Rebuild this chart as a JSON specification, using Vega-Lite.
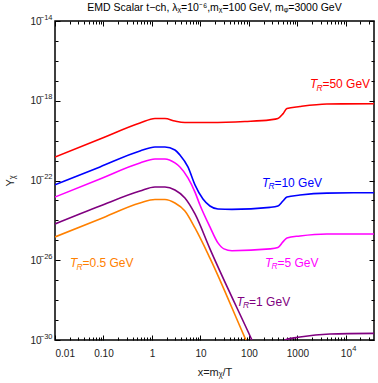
{
  "$schema": "https://vega.github.io/schema/vega-lite/v6.json",
  "width": 319,
  "height": 319,
  "autosize": "none",
  "padding": {"left": 55, "top": 21, "right": 4, "bottom": 43},
  "background": "white",
  "title": {"text": "EMD Scalar t−ch, λᵪ=10⁻⁶,mᵪ=100 GeV, mᵩ=3000 GeV", "font": "Liberation Sans", "fontSize": 10.5, "fontWeight": "normal", "color": "black", "offset": 0},
  "config": {
    "view": {"stroke": "black", "strokeWidth": 1.5},
    "axis": {"domain": false, "grid": false, "tickColor": "black", "labelColor": "#222", "labelFont": "Liberation Sans", "labelFontSize": 10, "titleFont": "Liberation Sans", "titleFontSize": 11, "titleFontWeight": "normal", "titleColor": "#222"}
  },
  "datasets": {
    "lines": [
      {"s": "50", "x": 0.01, "y": 1.51e-21}, {"s": "50", "x": 0.0847, "y": 1.20e-20}, {"s": "50", "x": 0.566, "y": 7.59e-20}, {"s": "50", "x": 1.153, "y": 1.29e-19}, {"s": "50", "x": 1.854, "y": 1.29e-19}, {"s": "50", "x": 2.979, "y": 9.55e-20}, {"s": "50", "x": 4.786, "y": 8.13e-20}, {"s": "50", "x": 15.70, "y": 8.13e-20}, {"s": "50", "x": 82.8, "y": 9.12e-20}, {"s": "50", "x": 271, "y": 1.10e-19}, {"s": "50", "x": 396, "y": 1.29e-19}, {"s": "50", "x": 502, "y": 2.19e-19}, {"s": "50", "x": 608, "y": 4.07e-19}, {"s": "50", "x": 1127, "y": 5.13e-19}, {"s": "50", "x": 4055, "y": 6.92e-19}, {"s": "50", "x": 37760, "y": 7.08e-19},
      {"s": "10", "x": 0.01, "y": 6.03e-23}, {"s": "10", "x": 0.0847, "y": 4.79e-22}, {"s": "10", "x": 0.566, "y": 3.02e-21}, {"s": "10", "x": 1.153, "y": 4.79e-21}, {"s": "10", "x": 1.854, "y": 4.79e-21}, {"s": "10", "x": 2.979, "y": 3.39e-21}, {"s": "10", "x": 3.776, "y": 1.91e-21}, {"s": "10", "x": 5.521, "y": 4.79e-22}, {"s": "10", "x": 7.71, "y": 6.03e-23}, {"s": "10", "x": 11.27, "y": 1.17e-23}, {"s": "10", "x": 15.70, "y": 5.25e-24}, {"s": "10", "x": 22.96, "y": 3.72e-24}, {"s": "10", "x": 44.57, "y": 3.55e-24}, {"s": "10", "x": 271, "y": 4.47e-24}, {"s": "10", "x": 396, "y": 5.25e-24}, {"s": "10", "x": 502, "y": 9.33e-24}, {"s": "10", "x": 608, "y": 1.48e-23}, {"s": "10", "x": 1127, "y": 1.86e-23}, {"s": "10", "x": 4055, "y": 2.34e-23}, {"s": "10", "x": 37760, "y": 2.45e-23},
      {"s": "5", "x": 0.01, "y": 1.48e-23}, {"s": "5", "x": 0.0847, "y": 1.20e-22}, {"s": "5", "x": 0.566, "y": 7.59e-22}, {"s": "5", "x": 1.153, "y": 1.20e-21}, {"s": "5", "x": 1.854, "y": 1.20e-21}, {"s": "5", "x": 2.979, "y": 7.59e-22}, {"s": "5", "x": 3.776, "y": 4.79e-22}, {"s": "5", "x": 5.521, "y": 1.35e-22}, {"s": "5", "x": 7.71, "y": 2.63e-23}, {"s": "5", "x": 9.77, "y": 5.89e-24}, {"s": "5", "x": 15.70, "y": 4.68e-25}, {"s": "5", "x": 22.96, "y": 7.41e-26}, {"s": "5", "x": 30.55, "y": 3.72e-26}, {"s": "5", "x": 44.57, "y": 3.02e-26}, {"s": "5", "x": 271, "y": 3.72e-26}, {"s": "5", "x": 396, "y": 4.37e-26}, {"s": "5", "x": 502, "y": 8.32e-26}, {"s": "5", "x": 608, "y": 1.32e-25}, {"s": "5", "x": 1127, "y": 1.66e-25}, {"s": "5", "x": 4055, "y": 2.09e-25}, {"s": "5", "x": 37760, "y": 2.09e-25},
      {"s": "1", "x": 0.01, "y": 6.61e-25}, {"s": "1", "x": 0.0847, "y": 5.25e-24}, {"s": "1", "x": 0.566, "y": 2.95e-23}, {"s": "1", "x": 1.153, "y": 4.68e-23}, {"s": "1", "x": 1.854, "y": 4.68e-23}, {"s": "1", "x": 2.979, "y": 3.31e-23}, {"s": "1", "x": 4.786, "y": 1.32e-23}, {"s": "1", "x": 7.71, "y": 2.09e-24}, {"s": "1", "x": 15.70, "y": 3.72e-26}, {"s": "1", "x": 115.3, "y": 1e-30}, {"s": "1", "x": 185.4, "y": 8.13e-32}, {"s": "1", "x": 343.6, "y": 1.78e-32}, {"s": "1", "x": 502, "y": 1e-31}, {"s": "1", "x": 552, "y": 1e-30}, {"s": "1", "x": 1127, "y": 1.41e-30}, {"s": "1", "x": 4677, "y": 2.0e-30}, {"s": "1", "x": 37760, "y": 2.14e-30},
      {"s": "0.5", "x": 0.01, "y": 1.48e-25}, {"s": "0.5", "x": 0.0847, "y": 1.17e-24}, {"s": "0.5", "x": 0.566, "y": 7.41e-24}, {"s": "0.5", "x": 1.153, "y": 1.12e-23}, {"s": "0.5", "x": 1.854, "y": 1.12e-23}, {"s": "0.5", "x": 2.979, "y": 7.41e-24}, {"s": "0.5", "x": 4.786, "y": 2.95e-24}, {"s": "0.5", "x": 7.71, "y": 4.17e-25}, {"s": "0.5", "x": 15.70, "y": 1.29e-26}, {"s": "0.5", "x": 86.7, "y": 1e-30}, {"s": "0.5", "x": 153.5, "y": 4.47e-32}
    ],
    "labels": [
      {"s": "50", "x": 1811, "y": 6.92e-18, "t": "=50 GeV"},
      {"s": "10", "x": 185.4, "y": 7.76e-23, "t": "=10 GeV"},
      {"s": "5", "x": 213.8, "y": 7.59e-27, "t": "=5 GeV"},
      {"s": "1", "x": 55.7, "y": 8.32e-29, "t": "=1 GeV"},
      {"s": "0.5", "x": 0.0204, "y": 7.24e-27, "t": "=0.5 GeV"}
    ]
  },
  "layer": [
    {
      "data": {"name": "lines"},
      "mark": {"type": "line", "interpolate": "monotone", "strokeWidth": 1.6, "clip": true},
      "encoding": {
        "x": {"field": "x", "type": "quantitative", "scale": {"type": "log", "domain": [0.01, 38000]},
          "axis": {"orient": "bottom", "title": "x=mᵪ/T", "titlePadding": 8, "labelPadding": 13,
            "values": [0.01,0.02,0.03,0.04,0.05,0.06,0.07,0.08,0.09,0.1,0.2,0.3,0.4,0.5,0.6,0.7,0.8,0.9,1,2,3,4,5,6,7,8,9,10,20,30,40,50,60,70,80,90,100,200,300,400,500,600,700,800,900,1000,2000,3000,4000,5000,6000,7000,8000,9000,10000,20000,30000],
            "tickSize": {"condition": {"test": "abs(log(datum.value)/LN10 - round(log(datum.value)/LN10)) < 0.01", "value": -5}, "value": -3},
            "labelExpr": "abs(log(datum.value)/LN10 - round(log(datum.value)/LN10)) > 0.01 ? '' : round(log(datum.value)/LN10) == -2 ? '0.01' : round(log(datum.value)/LN10) == -1 ? '0.10' : round(log(datum.value)/LN10) == 0 ? '1' : round(log(datum.value)/LN10) == 1 ? '10' : round(log(datum.value)/LN10) == 2 ? '100' : round(log(datum.value)/LN10) == 3 ? '1000' : '10'"}},
        "y": {"field": "y", "type": "quantitative", "scale": {"type": "log", "domain": [1e-30, 1e-14]},
          "axis": {"orient": "left", "title": "Yᵪ", "titlePadding": 14, "labelPadding": 19,
            "values": [1e-30,1e-29,1e-28,1e-27,1e-26,1e-25,1e-24,1e-23,1e-22,1e-21,1e-20,1e-19,1e-18,1e-17,1e-16,1e-15,1e-14],
            "tickSize": {"condition": {"test": "round(log(datum.value)/LN10) % 4 == -2", "value": -5}, "value": -3},
            "labelExpr": "round(log(datum.value)/LN10) % 4 == -2 ? '10' : ''"}},
        "color": {"field": "s", "type": "nominal", "scale": {"domain": ["50","10","5","1","0.5"], "range": ["#ff0000","#0000ff","#ff00ff","#800080","#ff8000"]}, "legend": null}
      }
    },
    {
      "data": {"name": "lines"},
      "mark": {"type": "point", "opacity": 0},
      "encoding": {
        "x": {"field": "x", "type": "quantitative", "scale": {"type": "log", "domain": [0.01, 38000]},
          "axis": {"orient": "top", "title": null, "labels": false,
            "values": [0.01,0.02,0.03,0.04,0.05,0.06,0.07,0.08,0.09,0.1,0.2,0.3,0.4,0.5,0.6,0.7,0.8,0.9,1,2,3,4,5,6,7,8,9,10,20,30,40,50,60,70,80,90,100,200,300,400,500,600,700,800,900,1000,2000,3000,4000,5000,6000,7000,8000,9000,10000,20000,30000],
            "tickSize": {"condition": {"test": "abs(log(datum.value)/LN10 - round(log(datum.value)/LN10)) < 0.01", "value": -5}, "value": -3}}},
        "y": {"field": "y", "type": "quantitative", "scale": {"type": "log", "domain": [1e-30, 1e-14]},
          "axis": {"orient": "right", "title": null, "labels": false,
            "values": [1e-30,1e-29,1e-28,1e-27,1e-26,1e-25,1e-24,1e-23,1e-22,1e-21,1e-20,1e-19,1e-18,1e-17,1e-16,1e-15,1e-14],
            "tickSize": {"condition": {"test": "round(log(datum.value)/LN10) % 4 == -2", "value": -5}, "value": -3}}}
      }
    },
    {
      "data": {"name": "lines"},
      "mark": {"type": "point", "opacity": 0},
      "encoding": {
        "x": {"field": "x", "type": "quantitative", "scale": {"type": "log", "domain": [0.01, 38000]},
          "axis": {"orient": "bottom", "title": null, "ticks": false, "labelPadding": 4, "labelOffset": 8, "labelFontSize": 7.5, "values": [10000], "labelExpr": "'4'"}},
        "y": {"field": "y", "type": "quantitative", "scale": {"type": "log", "domain": [1e-30, 1e-14]},
          "axis": {"orient": "left", "title": null, "ticks": false, "labelPadding": 3, "labelOffset": -4, "labelFontSize": 7.5,
            "values": [1e-30,1e-26,1e-22,1e-18,1e-14],
            "labelExpr": "'−' + format(-round(log(datum.value)/LN10), 'd')"}}
      }
    },
    {
      "data": {"name": "labels"},
      "mark": {"type": "text", "font": "Liberation Sans", "fontSize": 12, "fontStyle": "italic", "align": "left", "baseline": "middle"},
      "encoding": {
        "x": {"field": "x", "type": "quantitative", "scale": {"type": "log", "domain": [0.01, 38000]}, "axis": null},
        "y": {"field": "y", "type": "quantitative", "scale": {"type": "log", "domain": [1e-30, 1e-14]}, "axis": null},
        "text": {"value": "T"},
        "color": {"field": "s", "type": "nominal", "legend": null}
      }
    },
    {
      "data": {"name": "labels"},
      "mark": {"type": "text", "font": "Liberation Sans", "fontSize": 8.5, "fontStyle": "italic", "align": "left", "baseline": "middle", "dx": 6.5, "dy": 3.5},
      "encoding": {
        "x": {"field": "x", "type": "quantitative", "scale": {"type": "log", "domain": [0.01, 38000]}, "axis": null},
        "y": {"field": "y", "type": "quantitative", "scale": {"type": "log", "domain": [1e-30, 1e-14]}, "axis": null},
        "text": {"value": "R"},
        "color": {"field": "s", "type": "nominal", "legend": null}
      }
    },
    {
      "data": {"name": "labels"},
      "mark": {"type": "text", "font": "Liberation Sans", "fontSize": 12, "align": "left", "baseline": "middle", "dx": 12.5},
      "encoding": {
        "x": {"field": "x", "type": "quantitative", "scale": {"type": "log", "domain": [0.01, 38000]}, "axis": null},
        "y": {"field": "y", "type": "quantitative", "scale": {"type": "log", "domain": [1e-30, 1e-14]}, "axis": null},
        "text": {"field": "t"},
        "color": {"field": "s", "type": "nominal", "legend": null}
      }
    }
  ],
  "resolve": {"axis": {"x": "independent", "y": "independent"}}
}
